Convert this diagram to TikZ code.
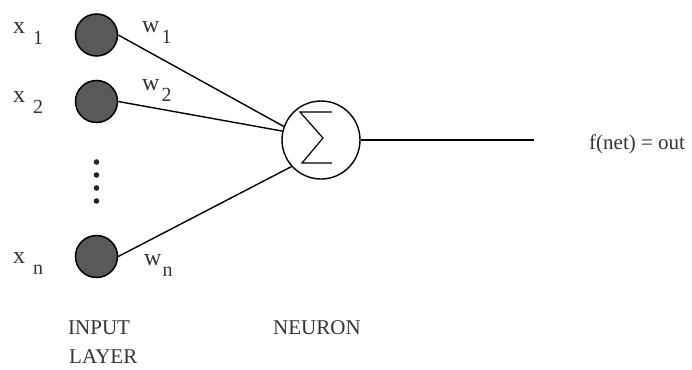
\documentclass[tikz,border=0pt]{standalone}
\usepackage{fontspec}
\setmainfont{Liberation Serif}
\usepackage{tikz}
\tikzset{
  inputunit/.style={circle,draw=black,fill=black!65,line width=1.5pt,minimum size=42pt,inner sep=0pt},
  sumunit/.style={circle,draw=black,fill=white,line width=1.4pt,minimum size=78pt,inner sep=0pt},
  weightline/.style={draw=black,line width=1.4pt},
  unitlabel/.style={anchor=base west,inner sep=0pt,text=black!80,font=\fontsize{21}{24}\selectfont},
  varlabel/.style={unitlabel,font=\fontsize{24}{26}\selectfont}
}
% letter with a lowered index, as printed in the figure
\newcommand{\lowidx}[3]{#1\hspace{#3}\raisebox{-11pt}{\fontsize{20}{22}\selectfont #2}}

\begin{document}
\begin{tikzpicture}[x=1pt,y=-1pt]
  \useasboundingbox (0,0) rectangle (692,369);
  % input layer
  \node[inputunit] (in1) at (96.5,35) {};
  \node[inputunit] (in2) at (96.5,101.5) {};
  \node[inputunit] (inn) at (96.5,256.5) {};
  \foreach \y in {162,175,188,201}
    \fill[black!85] (96.5,\y) circle (2.8);
  % neuron
  \node[sumunit] (neuron) at (321,140) {};
  \draw[line width=1.2pt,shift={(neuron.center)}]
    (11,-28) -- (-21,-28) -- (2,-2) -- (-19,23) -- (11,23);
  \coordinate (out) at (534,140);
  % connections
  \draw[weightline] (in1.east) -- (neuron.160);
  \draw[weightline] (in2.east) -- (neuron.167);
  \draw[weightline] (inn.east) -- (neuron.222);
  \draw[weightline] (neuron.east) -- (out);
  % labels
  \node[varlabel] (x1) at (13,34) {\lowidx{x}{1}{8pt}};
  \node[varlabel] (x2) at (13,102) {\lowidx{x}{2}{8pt}};
  \node[varlabel] (xn) at (13,263) {\lowidx{x}{n}{8pt}};
  \node[varlabel] (w1) at (142,33) {\lowidx{w}{1}{2pt}};
  \node[varlabel] (w2) at (142,90) {\lowidx{w}{2}{2pt}};
  \node[varlabel] (wn) at (144,265) {\lowidx{w}{n}{1pt}};
  \node[unitlabel] (outlab) at (589,149) {f(net) = out};
  \node[unitlabel] (inlab) at (68,334) {INPUT};
  \node[unitlabel] (layerlab) at (69,363) {LAYER};
  \node[unitlabel] (neuronlab) at (273,334) {NEURON};
\end{tikzpicture}
\end{document}
